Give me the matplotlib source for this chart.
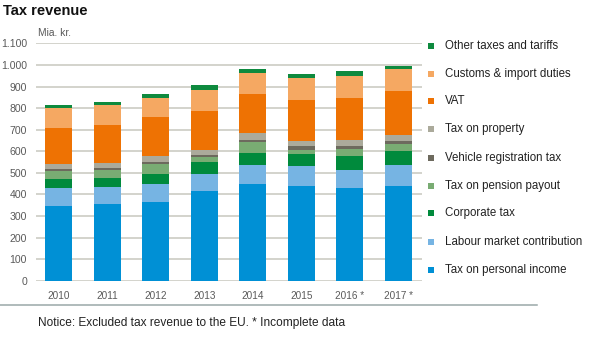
import matplotlib
matplotlib.use("Agg")
import matplotlib.pyplot as plt
from matplotlib.patches import Rectangle
from matplotlib.lines import Line2D

plt.rcParams['font.family'] = ['Liberation Sans', 'DejaVu Sans']

years = ["2010", "2011", "2012", "2013", "2014", "2015", "2016 *", "2017 *"]

# Tax revenue by type, bn. DKK (stacked bottom to top)
personal_income = [348, 354, 365, 414, 450, 440, 430, 437]
labour_market = [82, 81, 85, 81, 86, 90, 85, 99]
corporate_tax = [42, 42, 45, 55, 56, 56, 62, 64]
pension_payout = [35, 37, 46, 22, 50, 22, 35, 32]
vehicle_registration = [11, 9, 11, 12, 9, 15, 11, 15]
property_tax = [23, 23, 25, 23, 34, 26, 31, 28]
vat = [165, 176, 180, 180, 180, 189, 195, 204]
customs_duties = [93, 91, 92, 96, 97, 102, 102, 101]
other_taxes = [14, 15, 17, 22, 20, 17, 20, 17]

series = [
    ("Tax on personal income", personal_income, "#0090D5"),
    ("Labour market contribution", labour_market, "#76B4E3"),
    ("Corporate tax", corporate_tax, "#008A3C"),
    ("Tax on pension payout", pension_payout, "#79AC73"),
    ("Vehicle registration tax", vehicle_registration, "#6D6A5E"),
    ("Tax on property", property_tax, "#ABAA9B"),
    ("VAT", vat, "#EE7203"),
    ("Customs & import duties", customs_duties, "#F5A862"),
    ("Other taxes and tariffs", other_taxes, "#0E8A3E"),
]

W, H = 599, 337
fig = plt.figure(figsize=(W / 100, H / 100), dpi=100)

def fx(px):
    return px / W

def fy(py):
    return 1 - py / H

ax = fig.add_axes([fx(36), fy(280.7), fx(422) - fx(36), fy(43.4) - fy(280.7)])

x = list(range(len(years)))
bottom = [0] * len(years)
for name, vals, color in series:
    ax.bar(x, vals, width=0.557, bottom=bottom, color=color, edgecolor="none", zorder=3)
    bottom = [b + v for b, v in zip(bottom, vals)]

ax.set_xlim(-0.474, 7.485)
ax.set_ylim(0, 1100)
yticks = list(range(0, 1101, 100))
ax.set_yticks(yticks)
ax.set_yticklabels([f"{t:,}".replace(",", ".") for t in yticks])
ax.set_xticks(x)
ax.set_xticklabels(years)
ax.tick_params(axis="y", length=0, pad=6.5, labelsize=7.6, labelcolor="#5A5A5A")
ax.tick_params(axis="x", length=0, pad=7.5, labelsize=7.2, labelcolor="#5A5A5A")
ax.grid(axis="y", color="#D0D0C8", linewidth=1.3, zorder=0)
for s in ax.spines.values():
    s.set_visible(False)

# Title, unit and note
fig.text(fx(3), fy(11), "Tax revenue", fontsize=10.5, fontweight="bold",
         color="#111111", va="center", ha="left")
fig.text(fx(38), fy(33.5), "Mia. kr.", fontsize=7.4, color="#5A5A5A",
         va="center", ha="left")
fig.text(fx(38), fy(323), "Notice: Excluded tax revenue to the EU. * Incomplete data",
         fontsize=8.6, color="#222222", va="center", ha="left")

# Separator line above the note
fig.add_artist(Line2D([0, fx(537)], [fy(305), fy(305)], color="#9AA8A8", linewidth=1.1))

# Legend, top entry = top of the stack
legend_y = [45.7, 74.3, 101, 129, 157.7, 186, 213.3, 242, 270]
for (name, vals, color), ly in zip(reversed(series), legend_y):
    fig.add_artist(Rectangle((fx(428), fy(ly + 3)), fx(6), 6 / H,
                             facecolor=color, edgecolor="none",
                             transform=fig.transFigure))
    fig.text(fx(445), fy(ly), name, fontsize=8.3, color="#222222",
             va="center", ha="left")

fig.savefig("out.png", dpi=100)
